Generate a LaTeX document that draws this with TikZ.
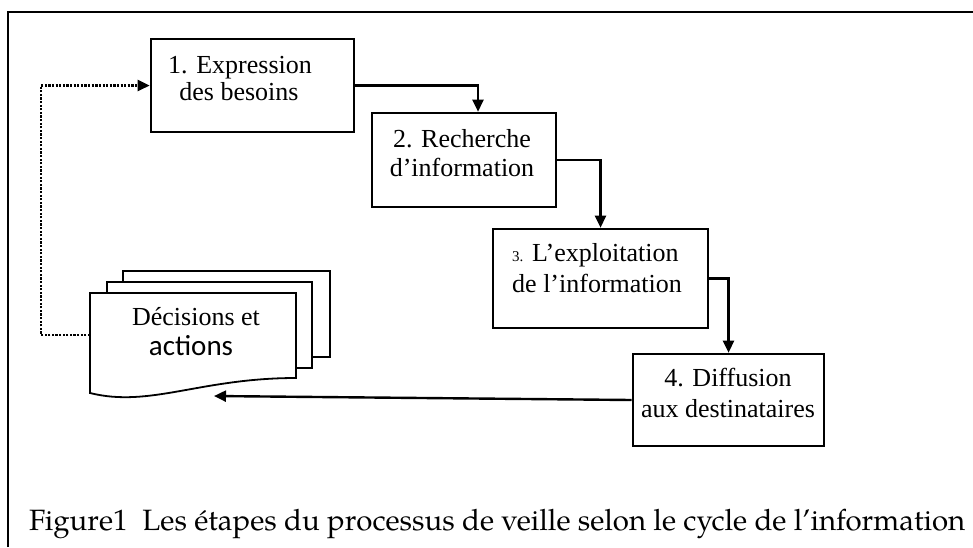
\documentclass[tikz,border=0pt]{standalone}
\usepackage{fontspec}
\setmainfont{Liberation Serif}
\newfontfamily\calfont{Carlito}
\newfontfamily\capfont{TeX Gyre Pagella}
\usetikzlibrary{arrows.meta}
\begin{document}
\begin{tikzpicture}[x=1pt,y=-1pt,
  box/.style={draw,line width=2.6pt,minimum width=#1,inner sep=0pt},
  txt/.style={anchor=base,inner sep=0pt,font=\fontsize{26}{30}\selectfont},
  arr/.style={line width=2.4pt,-{Triangle[length=12pt,width=11pt]}},
  dots/.style={line width=2.5pt,dash pattern=on 2.2pt off 1.4pt,-{Triangle[length=12pt,width=11pt]}},
  doc/.style={draw,line width=1.8pt,fill=white},
  frame/.style={line width=2pt}]
\useasboundingbox (0,0) rectangle (973,547);
% frame
\draw[frame] (8,547) -- (8,12) -- (973,12);
% boxes
\node[box=203pt,minimum height=93pt] (b1) at (252.5,85.5) {};
\node[box=184pt,minimum height=94pt] (b2) at (464,160) {};
\node[box=215pt,minimum height=99pt] (b3) at (600.5,278.5) {};
\node[box=191pt,minimum height=92pt] (b4) at (728.5,400) {};
% box texts
\node[txt] (t1a) at (240,73) {1. Expression};
\node[txt] (t1b) at (239,100) {des besoins};
\node[txt] (t2a) at (462,147) {2. Recherche};
\node[txt] (t2b) at (462,176) {d’information};
\node[txt,anchor=base west] (t3a) at (512,261) {{\fontsize{15}{18}\selectfont 3.} L’exploitation};
\node[txt,anchor=base west] (t3b) at (512,292) {de l’information};
\node[txt] (t4a) at (728,386) {4. Diffusion};
\node[txt] (t4b) at (728,417) {aux destinataires};
% documents
\draw[doc] (123,271) rectangle (330,357);
\draw[doc] (107,282) rectangle (312,368);
\draw[doc] (90,293) -- (296,293) -- (296,378)
  .. controls (200,378) and (150,408) .. (90,393) -- cycle;
\node[txt] (d1) at (196,325) {Décisions et};
\node[txt,font=\calfont\fontsize{29}{33}\selectfont] (d2) at (191,355) {actions};
\coordinate (dleft) at (90,335);
\coordinate (dcorner) at (41,335);
\coordinate (dtip) at (214,396);
% connectors
\draw[arr] (b1.east) -| ([xshift=14pt]b2.north);
\draw[arr] (b2.east) -| (b3.north);
\draw[arr] (b3.east) -| (b4.north);
\draw[arr] (b4.west) -- (dtip);
\draw[dots] (dleft) -- (dcorner) |- (b1.west);
% caption
\node[anchor=base west,inner sep=0pt,font=\capfont\fontsize{29}{34}\selectfont] (cap) at (29,530)
  {\resizebox{936pt}{!}{Figure1\ \ Les étapes du processus de veille selon le cycle de l’information}};
\end{tikzpicture}
\end{document}
